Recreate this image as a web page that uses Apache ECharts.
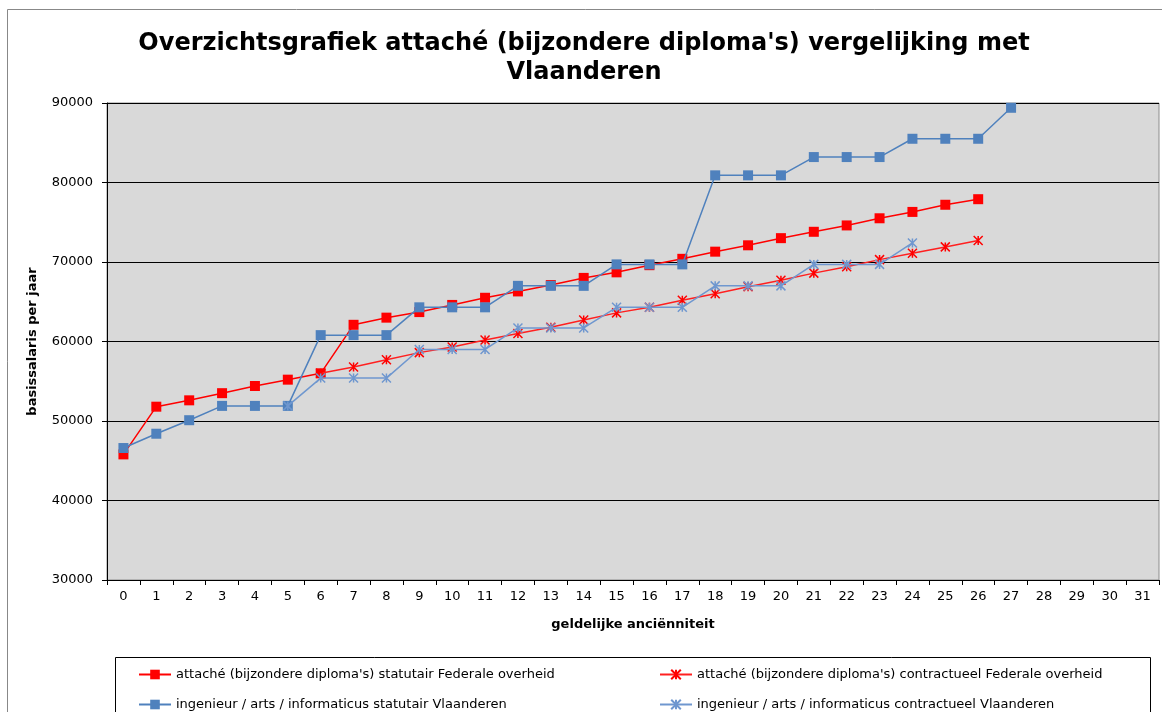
<!DOCTYPE html>
<html>
<head>
<meta charset="utf-8">
<title>Overzichtsgrafiek attaché</title>
<script src="https://cdn.jsdelivr.net/npm/echarts@6/dist/echarts.min.js"></script>
<style>
  html, body { margin: 0; padding: 0; background: #fff; }
  #chart { width: 1162px; height: 712px; }
</style>
</head>
<body>
<div id="chart"></div>
<script>
// geldelijke anciënniteit 0..31
var jaren = [];
for (var i = 0; i <= 31; i++) jaren.push(String(i));

// attaché statutair Federale overheid
var fedStatutair = [45800, 51800, 52600, 53500, 54400, 55200, 56000, 62100, 63000, 63700,
  64600, 65500, 66300, 67100, 68000, 68700, 69600, 70400, 71300, 72100,
  73000, 73800, 74600, 75500, 76300, 77200, 77900];

// attaché contractueel Federale overheid (vanaf 6)
var fedContractueel = [null, null, null, null, null, null, 56000, 56800, 57700, 58600,
  59300, 60200, 61000, 61800, 62700, 63600, 64300, 65200, 66000, 66900,
  67700, 68600, 69400, 70300, 71100, 71900, 72700];

// ingenieur / arts / informaticus statutair Vlaanderen
var vlStatutair = [46600, 48400, 50100, 51900, 51900, 51900, 60800, 60800, 60800, 64300,
  64300, 64300, 67000, 67000, 67000, 69700, 69700, 69700, 80900, 80900,
  80900, 83200, 83200, 83200, 85500, 85500, 85500, 89400];

// ingenieur / arts / informaticus contractueel Vlaanderen (gelijk tot 5)
var vlContractueel = [null, null, null, null, null, 51900, 55400, 55400, 55400, 59000,
  59000, 59000, 61700, 61700, 61700, 64300, 64300, 64300, 67000, 67000,
  67000, 69700, 69700, 69700, 72400];

var namen = [
  "attaché (bijzondere diploma's) statutair Federale overheid",
  "attaché (bijzondere diploma's) contractueel Federale overheid",
  "ingenieur / arts / informaticus statutair Vlaanderen",
  "ingenieur / arts / informaticus contractueel Vlaanderen"
];

var ster = 'path://M5,0L5,10M0,0L10,10M10,0L0,10';
var font = 'DejaVu Sans, Verdana, sans-serif';

// one legend per item so the two columns line up like the original
function legendItem(name, left, top) {
  return {
    data: [name], left: left, top: top,
    itemWidth: 32, itemHeight: 12, itemGap: 5,
    textStyle: { fontFamily: font, fontSize: 13, color: '#000' },
    z: 5
  };
}

var myChart = echarts.init(document.getElementById('chart'));

var option = {
  animation: false,
  backgroundColor: '#fff',
  textStyle: { fontFamily: font },
  title: {
    text: "Overzichtsgrafiek attaché (bijzondere diploma's) vergelijking met\nVlaanderen",
    left: 579,
    textAlign: 'center',
    top: 24,
    textStyle: { fontFamily: font, fontSize: 24, fontWeight: 'bold', color: '#000', lineHeight: 29 }
  },
  graphic: [
    { type: 'rect', shape: { x: 7.5, y: 9.5, width: 1200, height: 800 },
      style: { fill: null, stroke: '#888', lineWidth: 1 }, silent: true, z: -1 },
    { type: 'rect', shape: { x: 115.5, y: 657.5, width: 1035, height: 80 },
      style: { fill: '#fff', stroke: '#000', lineWidth: 1 }, silent: true, z: 0 }
  ],
  legend: [
    legendItem(namen[0], 133, 663),
    legendItem(namen[1], 654, 663),
    legendItem(namen[2], 133, 693),
    legendItem(namen[3], 654, 693)
  ],
  grid: {
    left: 107, right: 3, top: 103, bottom: 132,
    show: true, backgroundColor: '#d9d9d9', borderColor: '#8c8c8c', borderWidth: 1
  },
  xAxis: {
    type: 'category',
    data: jaren,
    name: 'geldelijke anciënniteit',
    nameLocation: 'middle',
    nameGap: 38,
    nameTextStyle: { fontFamily: font, fontSize: 13, fontWeight: 'bold', color: '#000' },
    axisLine: { lineStyle: { color: '#000', width: 1 } },
    axisTick: { show: true, length: 5, lineStyle: { color: '#000' } },
    axisLabel: { fontFamily: font, fontSize: 13, color: '#000', margin: 10 },
    splitLine: { show: false }
  },
  yAxis: {
    type: 'value',
    min: 30000, max: 90000, interval: 10000,
    name: 'basissalaris per jaar',
    nameLocation: 'middle',
    nameGap: 68,
    nameRotate: 90,
    nameTextStyle: { fontFamily: font, fontSize: 13, fontWeight: 'bold', color: '#000' },
    axisLine: { show: true, lineStyle: { color: '#000', width: 1 } },
    axisTick: { show: true, length: 5, lineStyle: { color: '#000' } },
    axisLabel: { fontFamily: font, fontSize: 13, color: '#000', margin: 14,
      formatter: function (v) { return String(v); } },
    splitLine: { show: true, lineStyle: { color: '#000', width: 1 } }
  },
  series: [
    {
      name: namen[0], type: 'line', data: fedStatutair,
      symbol: 'rect', symbolSize: 10,
      itemStyle: { color: '#ff0000' },
      lineStyle: { color: '#ff0000', width: 1.5 },
      z: 2
    },
    {
      name: namen[1], type: 'line', data: fedContractueel,
      symbol: ster, symbolSize: 9,
      itemStyle: { color: '#ff0000', borderColor: '#ff0000', borderWidth: 1.5 },
      lineStyle: { color: '#ff2020', width: 1.5 },
      z: 3
    },
    {
      name: namen[2], type: 'line', data: vlStatutair,
      symbol: 'rect', symbolSize: 10,
      itemStyle: { color: '#4f81bd' },
      lineStyle: { color: '#4f81bd', width: 1.5 },
      z: 4
    },
    {
      name: namen[3], type: 'line', data: vlContractueel,
      symbol: ster, symbolSize: 9,
      itemStyle: { color: '#6f97cf', borderColor: '#6f97cf', borderWidth: 1.5 },
      lineStyle: { color: '#6f97cf', width: 1.5 },
      z: 5
    }
  ]
};

myChart.setOption(option);
</script>
</body>
</html>
